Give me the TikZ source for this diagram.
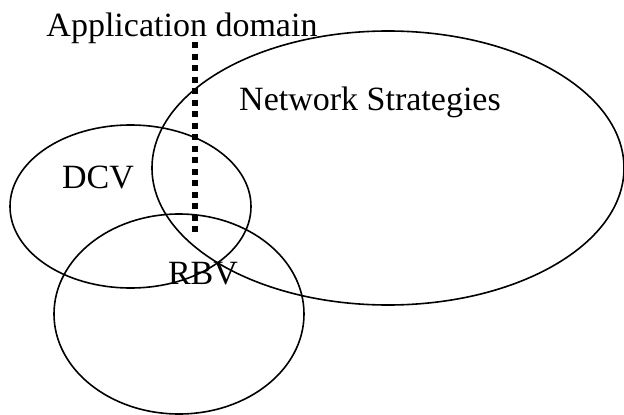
\documentclass[tikz,border=0pt]{standalone}
\usepackage{fontspec}
\setmainfont{Liberation Serif}
\usepackage{tikz}

\tikzset{
  setlabel/.style={font=\fontsize{34}{40}\selectfont, inner sep=0pt, anchor=base},
  setline/.style={line width=1.6pt}
}

\begin{document}
\begin{tikzpicture}[x=1pt,y=-1pt]
\useasboundingbox (0,0) rectangle (624,415);

% The three overlapping sets
\draw[setline] (388,168) ellipse [x radius=236pt, y radius=137pt];
\draw[setline] (130.5,206.5) ellipse [x radius=120.5pt, y radius=81.5pt];
\draw[setline] (179,314) ellipse [x radius=125pt, y radius=100pt];

% Boundary of the application domain
\coordinate (top) at (195,42);
\coordinate (bottom) at (195,233);
\draw[line width=6pt, dash pattern=on 6pt off 5.5pt] (top) -- (bottom);

% Labels
\node[setlabel] (app) at (182,36) {Application domain};
\node[setlabel] (ns) at (370,110) {Network Strategies};
\node[setlabel] (dcv) at (98,188) {DCV};
\node[setlabel] (rbv) at (203,284) {RBV};
\end{tikzpicture}
\end{document}
